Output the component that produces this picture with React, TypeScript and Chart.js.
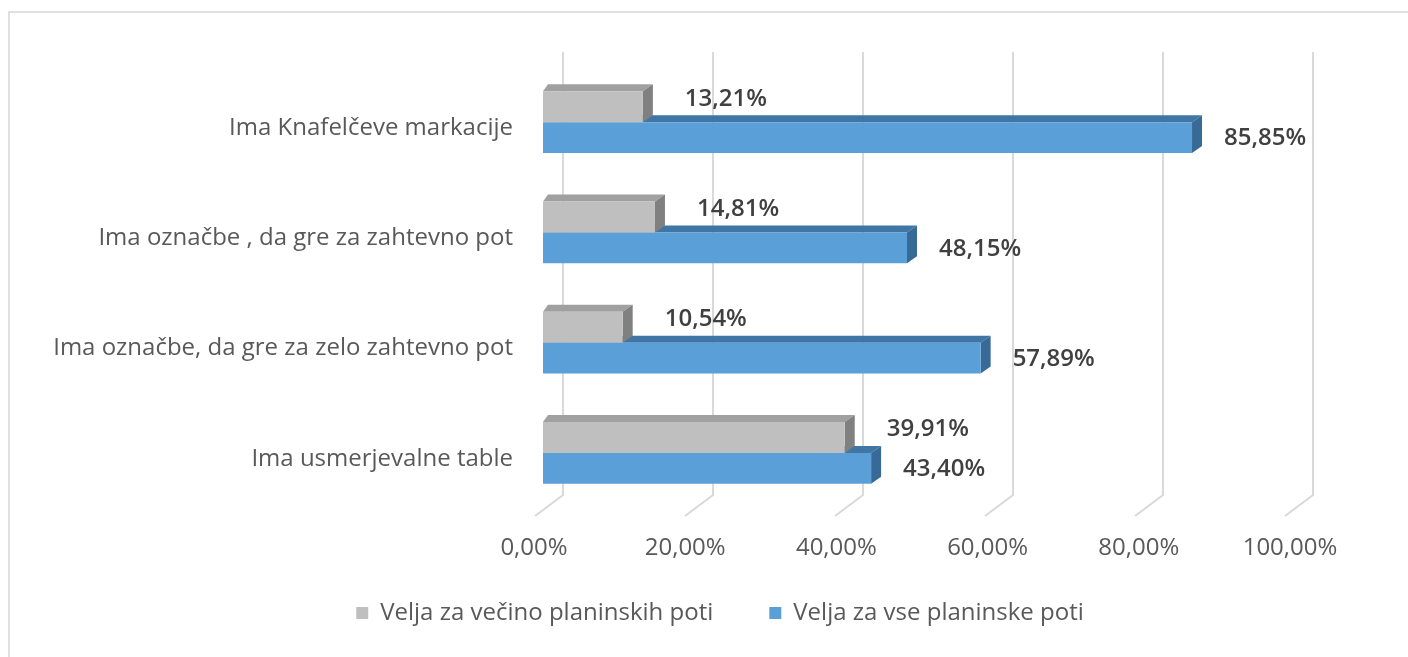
import React, { useEffect, useRef } from "react";
import { Chart, registerables } from "chart.js";

Chart.register(...registerables);

const categories: string[] = [
  "Ima Knafelčeve markacije",
  "Ima označbe , da gre za zahtevno pot",
  "Ima označbe, da gre za zelo zahtevno pot",
  "Ima usmerjevalne table",
];

const seriesNames: string[] = ["Velja za večino planinskih poti", "Velja za vse planinske poti"];
const majorityValues: number[] = [13.21, 14.81, 10.54, 39.91];
const allValues: number[] = [85.85, 48.15, 57.89, 43.4];
const xTickValues: number[] = [0, 20, 40, 60, 80, 100];

const FONT = "'Open Sans', 'DejaVu Sans', sans-serif";

const faceColors = [
  { front: "#bfbfbf", top: "#a0a0a0", side: "#808080" },
  { front: "#5b9fd8", top: "#3f76a6", side: "#376a96" },
];

const fmt = (v: number) => v.toFixed(2).replace(".", ",") + "%";

const threeDPlugin = {
  id: "threeD",
  afterLayout(chart: any) {
    const xs = chart.scales.x;
    if (xs) xs.bottom = xs.top + 80;
  },
  beforeDatasetsDraw(chart: any) {
    const ctx = chart.ctx;
    const xs = chart.scales.x;
    const area = chart.chartArea;
    ctx.save();
    ctx.strokeStyle = "#d9d9d9";
    ctx.lineWidth = 2;
    xTickValues.forEach((v) => {
      const fx = xs.getPixelForValue(v);
      const bx = fx + 20 - 0.06 * v;
      ctx.beginPath();
      ctx.moveTo(bx, area.top - 15);
      ctx.lineTo(bx, area.bottom - 13);
      ctx.lineTo(bx - 28, area.bottom + 8);
      ctx.stroke();
    });
    ctx.restore();
  },
  beforeDatasetDraw(chart: any, args: any) {
    const ctx = chart.ctx;
    const c = faceColors[args.index];
    ctx.save();
    args.meta.data.forEach((el: any) => {
      const p = el.getProps(["x", "y", "base", "height"], true);
      const yT = p.y - p.height / 2;
      const yB = p.y + p.height / 2;
      const x0 = p.base;
      const x1 = p.x;
      ctx.fillStyle = c.top;
      ctx.beginPath();
      ctx.moveTo(x0, yT);
      ctx.lineTo(x1, yT);
      ctx.lineTo(x1 + 10, yT - 7);
      ctx.lineTo(x0 + 5, yT - 7);
      ctx.closePath();
      ctx.fill();
      ctx.fillStyle = c.side;
      ctx.beginPath();
      ctx.moveTo(x1, yT);
      ctx.lineTo(x1 + 10, yT - 7);
      ctx.lineTo(x1 + 10, yB - 7);
      ctx.lineTo(x1, yB);
      ctx.closePath();
      ctx.fill();
    });
    ctx.restore();
  },
  afterDatasetsDraw(chart: any) {
    const ctx = chart.ctx;
    ctx.save();
    ctx.font = `600 24px ${FONT}`;
    ctx.fillStyle = "#404040";
    ctx.textAlign = "left";
    ctx.textBaseline = "middle";
    chart.data.datasets.forEach((ds: any, di: number) => {
      const meta = chart.getDatasetMeta(di);
      meta.data.forEach((el: any, i: number) => {
        const p = el.getProps(["x", "y"], true);
        const dx = di === 0 ? 42 : 32;
        const dy = di === 0 ? -8 : 1;
        ctx.fillText(fmt(ds.data[i]), p.x + dx, p.y + dy);
      });
    });
    ctx.restore();
  },
};

export default function App() {
  const canvasRef = useRef<HTMLCanvasElement | null>(null);

  useEffect(() => {
    if (!canvasRef.current) return;
    const chart = new Chart(canvasRef.current, {
      type: "bar",
      data: {
        labels: categories,
        datasets: [
          {
            label: seriesNames[0],
            data: majorityValues,
            backgroundColor: faceColors[0].front,
            borderWidth: 0,
            categoryPercentage: 0.56,
            barPercentage: 1,
          },
          {
            label: seriesNames[1],
            data: allValues,
            backgroundColor: faceColors[1].front,
            borderWidth: 0,
            categoryPercentage: 0.56,
            barPercentage: 1,
          },
        ],
      },
      options: {
        indexAxis: "y",
        responsive: false,
        animation: false,
        devicePixelRatio: 1,
        layout: { padding: { left: 32, right: 0, top: 67, bottom: 22 } },
        scales: {
          x: {
            min: 0,
            max: 100,
            grid: { display: false, drawTicks: false },
            border: { display: false },
            ticks: {
              stepSize: 20,
              padding: 26,
              labelOffset: -9,
              color: "#595959",
              font: { family: FONT, size: 24 },
              callback: (v: any) => fmt(Number(v)),
            },
            afterFit: (s: any) => {
              s.height = 37;
            },
          },
          y: {
            grid: { display: false, drawTicks: false },
            border: { display: false },
            ticks: {
              padding: 30,
              labelOffset: 6,
              color: "#595959",
              font: { family: FONT, size: 24 },
            },
            afterFit: (s: any) => {
              s.width = 511;
            },
          },
          y2: {
            type: "category",
            position: "right",
            grid: { display: false, drawTicks: false, drawOnChartArea: false },
            border: { display: false },
            ticks: { display: false },
            afterFit: (s: any) => {
              s.width = 109;
            },
          },
        },
        plugins: {
          legend: {
            position: "bottom",
            labels: {
              boxWidth: 12,
              boxHeight: 12,
              padding: 56,
              color: "#595959",
              font: { family: FONT, size: 24 },
            },
          },
          tooltip: { enabled: false },
        },
      },
      plugins: [threeDPlugin],
    } as any);
    return () => chart.destroy();
  }, []);

  return (
    <div
      style={{
        position: "fixed",
        left: 0,
        top: 0,
        width: 1408,
        height: 657,
        overflow: "hidden",
        background: "#ffffff",
      }}
    >
      <canvas ref={canvasRef} width={1408} height={657} style={{ position: "absolute", left: 0, top: 0 }} />
      <div
        style={{
          position: "absolute",
          left: 8,
          top: 11,
          width: 1600,
          height: 900,
          border: "2px solid #e0e0e0",
          pointerEvents: "none",
        }}
      />
    </div>
  );
}
